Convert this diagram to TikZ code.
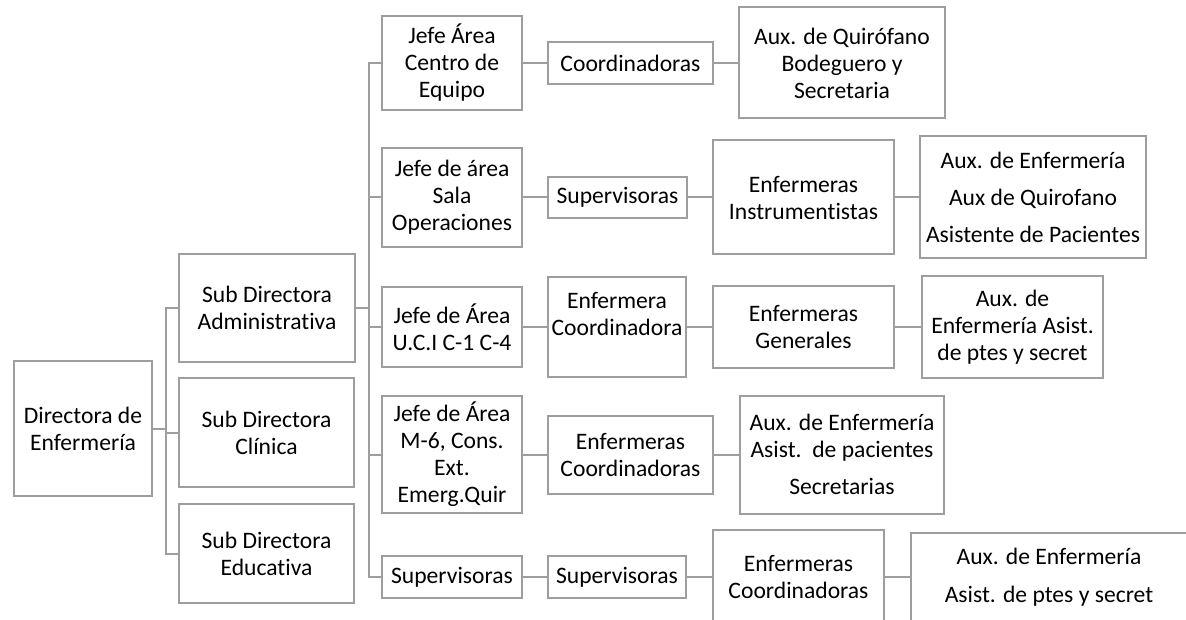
\documentclass[tikz,border=0pt]{standalone}
\usepackage{fontspec}
\setmainfont{Carlito}[Ligatures={NoCommon}]
\definecolor{linegray}{RGB}{158,158,158}
\begin{document}
\begin{tikzpicture}[x=1pt,y=-1pt,
  box/.style={draw=linegray,line width=2pt,align=center,inner sep=0pt,
    font=\fontsize{23.6}{27}\selectfont,text=black},
  conn/.style={draw=linegray,line width=2pt}]
\useasboundingbox (0,0) rectangle (1186,620);
% level 1
\node[box,minimum width=138,minimum height=135] (dir) at (83,428.5) {Directora de\\Enfermería};
% level 2
\node[box,minimum width=176,minimum height=107] (sa) at (267,308) {Sub Directora\\Administrativa};
\node[box,minimum width=175,minimum height=109] (sc) at (266.5,432.5) {Sub Directora\\Clínica};
\node[box,minimum width=175,minimum height=99] (se) at (266.5,553.5) {Sub Directora\\Educativa};
% row 1
\node[box,minimum width=140,minimum height=94] (j1) at (452,63) {Jefe Área\\Centro de\\Equipo};
\node[box,minimum width=165,minimum height=42] (c1) at (630.5,63) {Coordinadoras};
\node[box,minimum width=206,minimum height=111] (a1) at (842,63) {Aux. de Quirófano\\Bodeguero y\\Secretaria};
% row 2
\node[box,minimum width=140,minimum height=99] (j2) at (452,197.5) {Jefe de área\\Sala\\Operaciones};
\node[box,minimum width=139,minimum height=41] (s2) at (617.5,197.5) {Supervisoras};
\node[box,minimum width=181,minimum height=114] (e2) at (803.5,197.5) {Enfermeras\\Instrumentistas};
\node[box,minimum width=226,minimum height=122] (a2) at (1033,197.5) {Aux. de Enfermería\\[10pt]Aux de Quirofano\\[10pt]Asistente de Pacientes};
% row 3
\node[box,minimum width=140,minimum height=80] (j3) at (452,327) {Jefe de Área\\U.C.I C-1 C-4};
\node[box,minimum width=138,minimum height=99] (c3) at (617,327) {Enfermera\\Coordinadora\\\mbox{}};
\node[box,minimum width=181,minimum height=81] (e3) at (803.5,327) {Enfermeras\\Generales};
\node[box,minimum width=181,minimum height=102] (a3) at (1012.5,327) {Aux. de\\Enfermería Asist.\\de ptes y secret};
% row 4
\node[box,minimum width=140,minimum height=117] (j4) at (452,454.5) {Jefe de Área\\M-6, Cons.\\Ext.\\Emerg.Quir};
\node[box,minimum width=165,minimum height=78] (c4) at (630.5,454.5) {Enfermeras\\Coordinadoras};
\node[box,minimum width=204,minimum height=118] (a4) at (842,454.5) {Aux. de Enfermería\\Asist.\ \ de pacientes\\[10pt]Secretarias};
% row 5
\node[box,minimum width=140,minimum height=42] (j5) at (452,577) {Supervisoras};
\node[box,minimum width=138,minimum height=42] (s5) at (617,577) {Supervisoras};
\node[box,minimum width=171,minimum height=94] (e5) at (798.5,577) {Enfermeras\\Coordinadoras};
\node[box,minimum width=276,minimum height=88] (a5) at (1049,577) {Aux. de Enfermería\\[11pt]Asist. de ptes y secret};
% buses
\coordinate (b1) at (166,428.5);
\draw[conn] (dir.east) -- (b1);
\draw[conn] (sa.west) -| (b1);
\draw[conn] (sc.west) -| (b1);
\draw[conn] (se.west) -| (b1);
\coordinate (b2) at (369,308);
\draw[conn] (sa.east) -- (b2);
\draw[conn] (j1.west) -| (b2);
\draw[conn] (j2.west) -| (b2);
\draw[conn] (j3.west) -| (b2);
\draw[conn] (j4.west) -| (b2);
\draw[conn] (j5.west) -| (b2);
% chains
\draw[conn] (j1) -- (c1) -- (a1);
\draw[conn] (j2) -- (s2) -- (e2) -- (a2);
\draw[conn] (j3) -- (c3) -- (e3) -- (a3);
\draw[conn] (j4) -- (c4) -- (a4);
\draw[conn] (j5) -- (s5) -- (e5) -- (a5);
\end{tikzpicture}
\end{document}
